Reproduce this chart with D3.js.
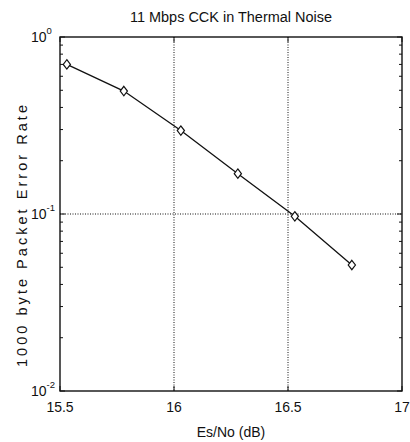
<!DOCTYPE html>
<html lang="en">
<head>
    <meta charset="UTF-8">
    <title>11 Mbps CCK in Thermal Noise</title>
    <script src="https://d3js.org/d3.v7.min.js"></script>
    <style>
        body { margin: 0; background: #fff; }
        text { font-family: "Liberation Sans", Arial, sans-serif; fill: #111; }
    </style>
</head>
<body>
    <div id="chart"></div>
    <script>
        // Values
        const esNo = [15.53, 15.78, 16.03, 16.28, 16.53, 16.78];
        const per = [0.70, 0.495, 0.296, 0.169, 0.097, 0.0515];
        const xTicks = [15.5, 16, 16.5, 17];
        const yTicks = [1, 0.1, 0.01];
        const yExp = ["0", "-1", "-2"];

        const width = 410;
        const height = 442;
        const margin = { top: 37, right: 8, bottom: 51, left: 60 };

        const svg = d3.select("#chart").append("svg")
            .attr("width", width)
            .attr("height", height);

        const x = d3.scaleLinear()
            .domain([15.5, 17])
            .range([margin.left, width - margin.right]);

        const y = d3.scaleLog()
            .domain([0.01, 1])
            .range([height - margin.bottom, margin.top]);

        const x0 = x.range()[0], x1 = x.range()[1];
        const y0 = y.range()[0], y1 = y.range()[1];

        // Dotted grid at major ticks
        const grid = svg.append("g")
            .attr("stroke", "#111")
            .attr("stroke-width", 1)
            .attr("stroke-dasharray", "1,1.5");
        grid.selectAll("line.gx")
            .data(xTicks.slice(1, -1))
            .join("line")
            .attr("class", "gx")
            .attr("x1", d => x(d)).attr("x2", d => x(d))
            .attr("y1", y1).attr("y2", y0);
        grid.selectAll("line.gy")
            .data(yTicks.slice(1, -1))
            .join("line")
            .attr("class", "gy")
            .attr("x1", x0).attr("x2", x1)
            .attr("y1", d => y(d)).attr("y2", d => y(d));

        // Ticks inside the box
        const minor = [];
        [0.01, 0.1].forEach(b => {
            for (let k = 2; k <= 9; k++) minor.push(b * k);
        });
        const ticks = svg.append("g").attr("stroke", "#111").attr("stroke-width", 1);
        ticks.selectAll("line.my")
            .data(minor.flatMap(v => [[x0, 3, v], [x1, -3, v]]))
            .join("line")
            .attr("class", "my")
            .attr("x1", d => d[0]).attr("x2", d => d[0] + d[1])
            .attr("y1", d => y(d[2])).attr("y2", d => y(d[2]));
        ticks.selectAll("line.ty")
            .data(yTicks.flatMap(v => [[x0, 5, v], [x1, -5, v]]))
            .join("line")
            .attr("class", "ty")
            .attr("x1", d => d[0]).attr("x2", d => d[0] + d[1])
            .attr("y1", d => y(d[2])).attr("y2", d => y(d[2]));
        ticks.selectAll("line.tx")
            .data(xTicks.flatMap(v => [[y0, -5, v], [y1, 5, v]]))
            .join("line")
            .attr("class", "tx")
            .attr("x1", d => x(d[2])).attr("x2", d => x(d[2]))
            .attr("y1", d => d[0]).attr("y2", d => d[0] + d[1]);

        // Box
        svg.append("rect")
            .attr("x", x0).attr("y", y1)
            .attr("width", x1 - x0).attr("height", y0 - y1)
            .attr("fill", "none")
            .attr("stroke", "#111")
            .attr("stroke-width", 1.4);

        // X tick labels
        svg.selectAll("text.xl")
            .data(xTicks)
            .join("text")
            .attr("class", "xl")
            .attr("x", d => x(d))
            .attr("y", y0 + 21)
            .attr("text-anchor", "middle")
            .attr("font-size", 14)
            .text(d => d);

        // Y tick labels: 10 with exponent
        const yl = svg.selectAll("text.yl")
            .data(yTicks)
            .join("text")
            .attr("class", "yl")
            .attr("x", 31)
            .attr("y", d => y(d) + 5)
            .attr("font-size", 14);
        yl.append("tspan").text("10");
        yl.append("tspan")
            .attr("dy", -8)
            .attr("font-size", 9.5)
            .text((d, i) => yExp[i]);

        // Curve
        const pts = esNo.map((v, i) => [v, per[i]]);
        svg.append("path")
            .datum(pts)
            .attr("fill", "none")
            .attr("stroke", "#111")
            .attr("stroke-width", 1.3)
            .attr("d", d3.line().x(d => x(d[0])).y(d => y(d[1])));

        // Diamond markers
        svg.selectAll("path.mk")
            .data(pts)
            .join("path")
            .attr("class", "mk")
            .attr("transform", d => `translate(${x(d[0])},${y(d[1])})`)
            .attr("d", "M0,-4.7L3.6,0L0,4.7L-3.6,0Z")
            .attr("fill", "#fff")
            .attr("stroke", "#111")
            .attr("stroke-width", 1.2);

        // Title and axis labels
        svg.append("text")
            .attr("x", (x0 + x1) / 2)
            .attr("y", 22)
            .attr("text-anchor", "middle")
            .attr("font-size", 14)
            .attr("textLength", 202)
            .attr("lengthAdjust", "spacingAndGlyphs")
            .text("11 Mbps CCK in Thermal Noise");

        svg.append("text")
            .attr("x", (x0 + x1) / 2)
            .attr("y", 437)
            .attr("text-anchor", "middle")
            .attr("font-size", 14)
            .text("Es/No (dB)");

        svg.append("text")
            .attr("transform", `translate(27,236) rotate(-90)`)
            .attr("text-anchor", "middle")
            .attr("font-size", 14.5)
            .attr("textLength", 262)
            .attr("lengthAdjust", "spacing")
            .text("1000 byte Packet Error Rate");
    </script>
</body>
</html>
